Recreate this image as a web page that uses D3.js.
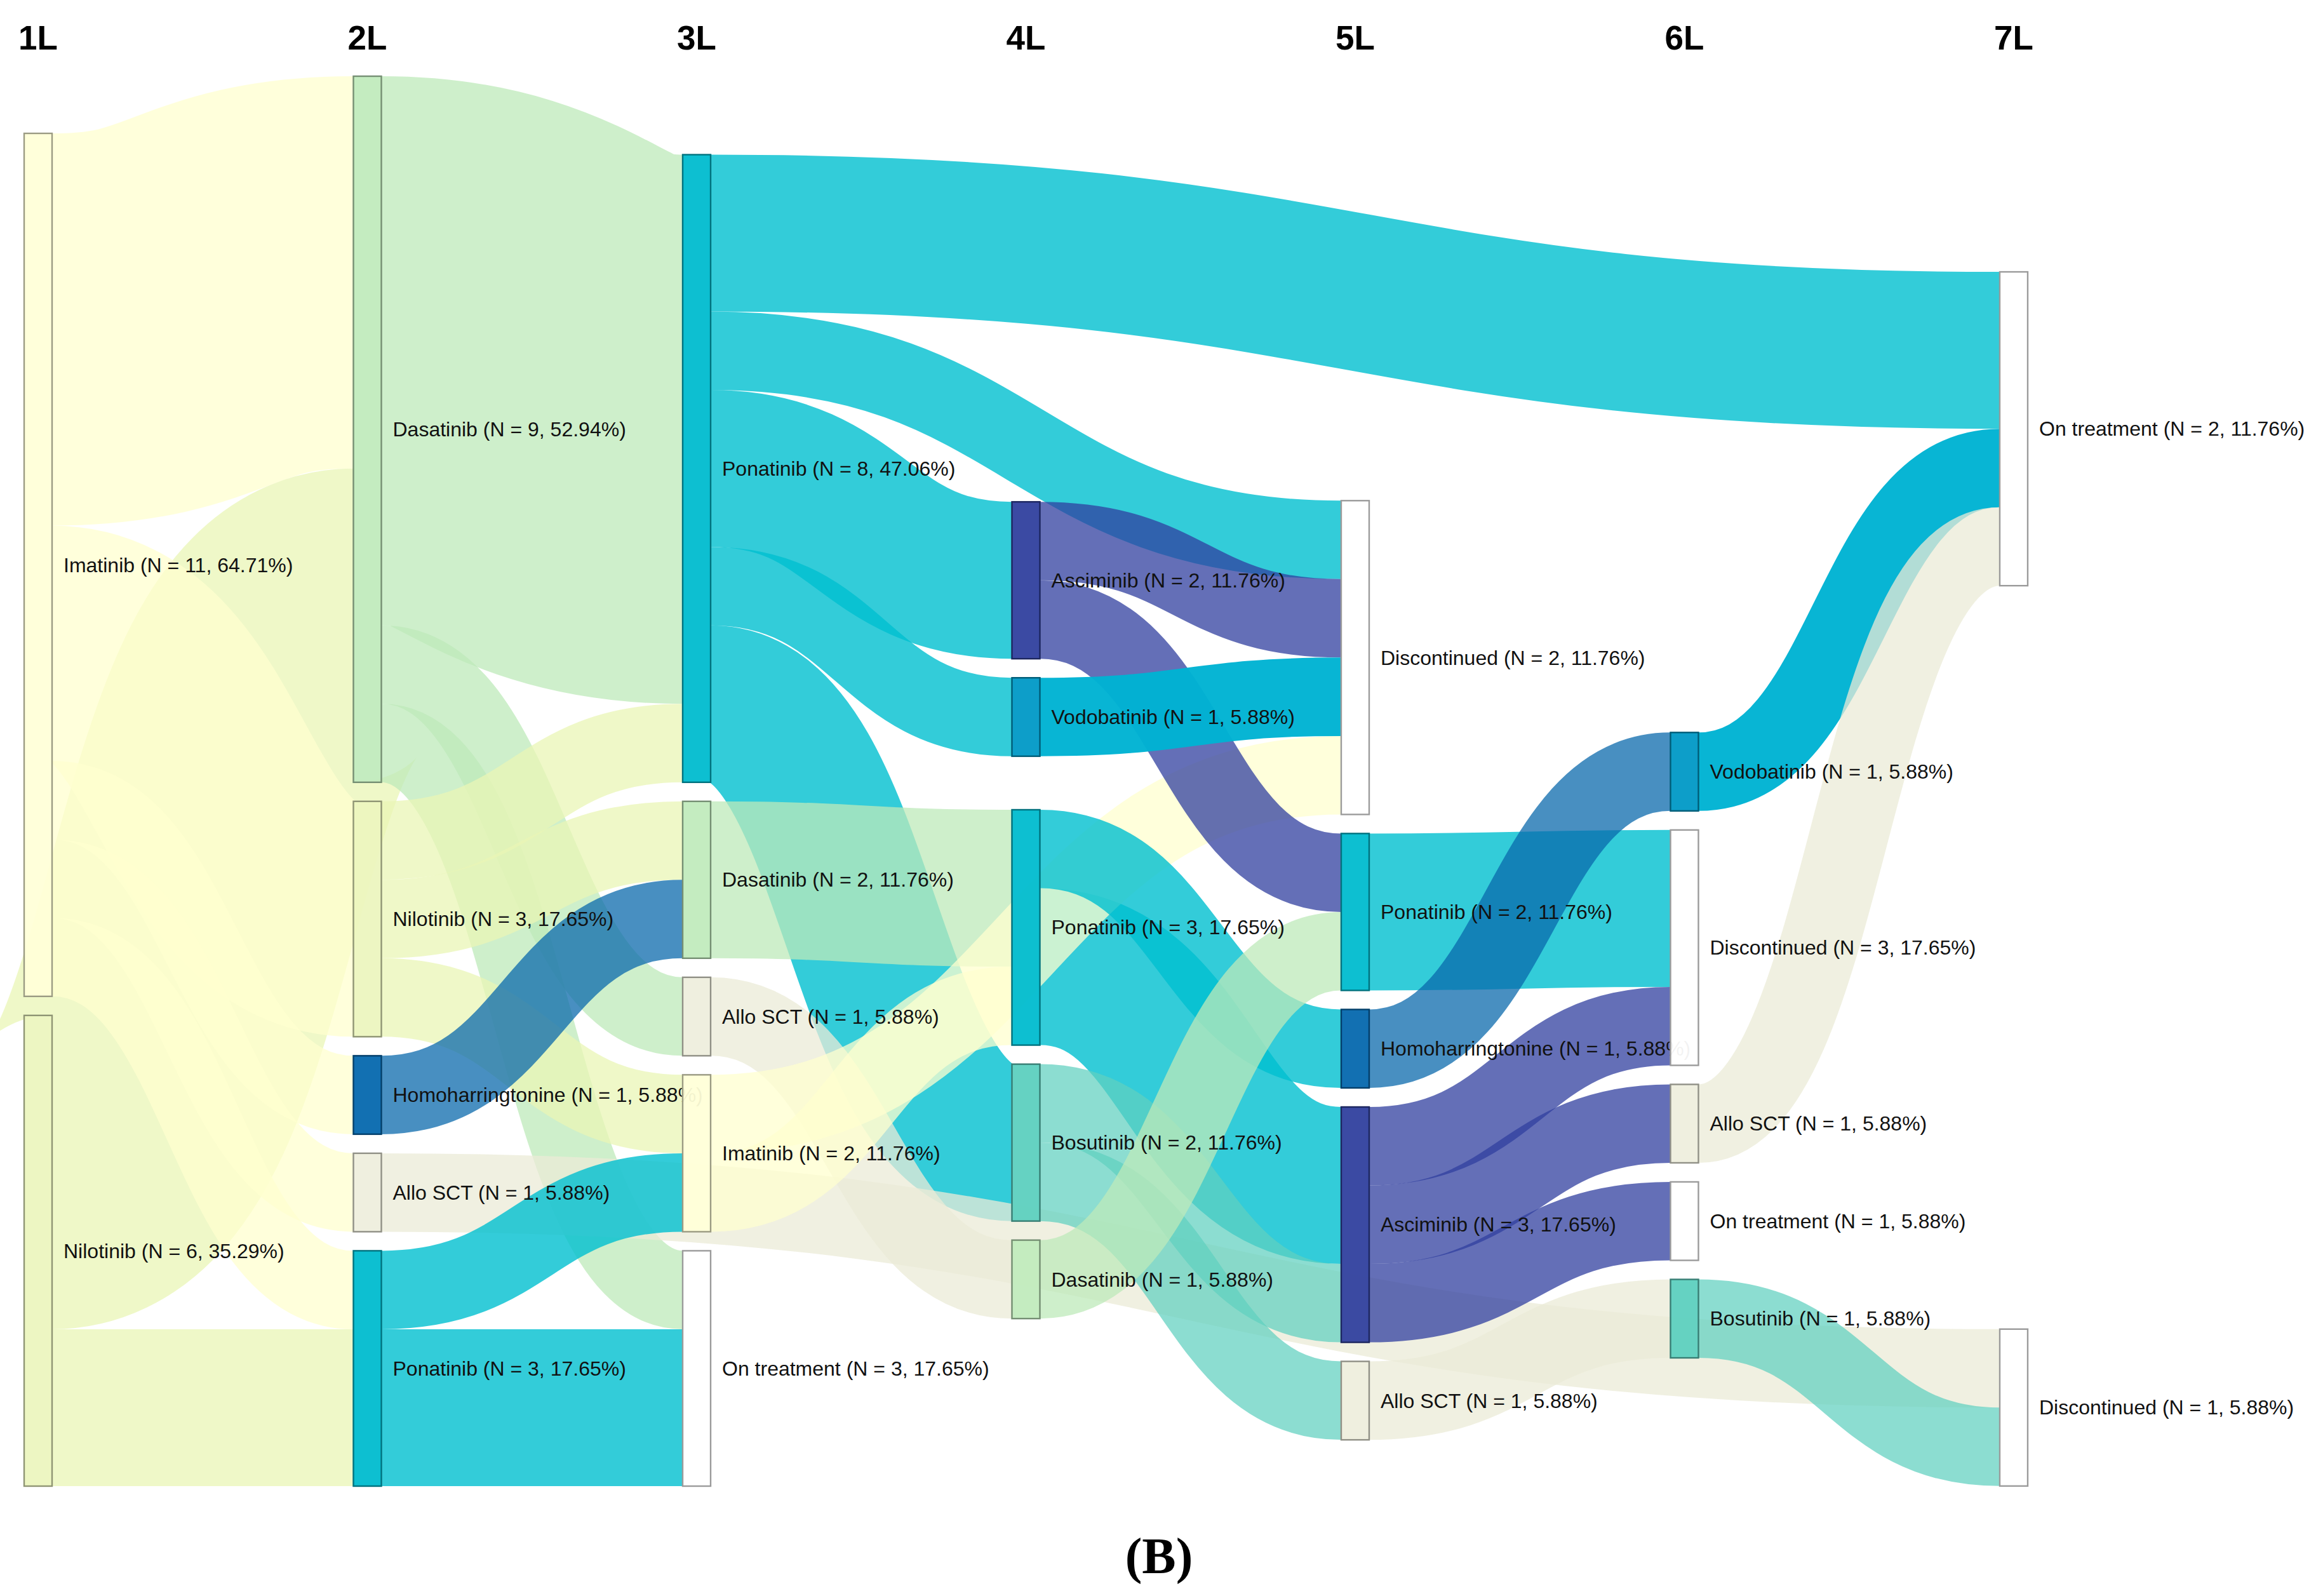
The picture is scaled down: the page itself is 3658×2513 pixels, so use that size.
<!DOCTYPE html>
<html>
<head>
<meta charset="utf-8">
<script src="https://cdn.jsdelivr.net/npm/d3@7"></script>
<style>
  body { margin: 0; background: #ffffff; }
  svg { display: block; }
  .lbl { font-family: "Liberation Sans", Arial, sans-serif; font-size: 32px; fill: #111; }
  .stage { font-family: "Liberation Sans", Arial, sans-serif; font-size: 53px; font-weight: bold; fill: #000; }
  .panel { font-family: "Liberation Serif", "Times New Roman", serif; font-size: 80px; font-weight: bold; fill: #000; }
</style>
</head>
<body>
<svg id="chart" width="3658" height="2513"></svg>
<script>
// ---------------- DATA ----------------
const stageLabels = ["1L", "2L", "3L", "4L", "5L", "6L", "7L"];

const nodeNames = [
  "Imatinib 1L", "Nilotinib 1L",
  "Dasatinib 2L", "Nilotinib 2L", "Homoharringtonine 2L", "Allo SCT 2L", "Ponatinib 2L",
  "Ponatinib 3L", "Dasatinib 3L", "Allo SCT 3L", "Imatinib 3L", "On treatment 3L",
  "Asciminib 4L", "Vodobatinib 4L", "Ponatinib 4L", "Bosutinib 4L", "Dasatinib 4L",
  "Discontinued 5L", "Ponatinib 5L", "Homoharringtonine 5L", "Asciminib 5L", "Allo SCT 5L",
  "Vodobatinib 6L", "Discontinued 6L", "Allo SCT 6L", "On treatment 6L", "Bosutinib 6L",
  "On treatment 7L", "Discontinued 7L"
];

const nodeLabels = [
  "Imatinib (N = 11, 64.71%)", "Nilotinib (N = 6, 35.29%)",
  "Dasatinib (N = 9, 52.94%)", "Nilotinib (N = 3, 17.65%)", "Homoharringtonine (N = 1, 5.88%)", "Allo SCT (N = 1, 5.88%)", "Ponatinib (N = 3, 17.65%)",
  "Ponatinib (N = 8, 47.06%)", "Dasatinib (N = 2, 11.76%)", "Allo SCT (N = 1, 5.88%)", "Imatinib (N = 2, 11.76%)", "On treatment (N = 3, 17.65%)",
  "Asciminib (N = 2, 11.76%)", "Vodobatinib (N = 1, 5.88%)", "Ponatinib (N = 3, 17.65%)", "Bosutinib (N = 2, 11.76%)", "Dasatinib (N = 1, 5.88%)",
  "Discontinued (N = 2, 11.76%)", "Ponatinib (N = 2, 11.76%)", "Homoharringtonine (N = 1, 5.88%)", "Asciminib (N = 3, 17.65%)", "Allo SCT (N = 1, 5.88%)",
  "Vodobatinib (N = 1, 5.88%)", "Discontinued (N = 3, 17.65%)", "Allo SCT (N = 1, 5.88%)", "On treatment (N = 1, 5.88%)", "Bosutinib (N = 1, 5.88%)",
  "On treatment (N = 2, 11.76%)", "Discontinued (N = 1, 5.88%)"
];

const nodeGroups = [
  "Imatinib", "Nilotinib",
  "Dasatinib", "Nilotinib", "Homoharringtonine", "Allo SCT", "Ponatinib",
  "Ponatinib", "Dasatinib", "Allo SCT", "Imatinib", "On treatment",
  "Asciminib", "Vodobatinib", "Ponatinib", "Bosutinib", "Dasatinib",
  "Discontinued", "Ponatinib", "Homoharringtonine", "Asciminib", "Allo SCT",
  "Vodobatinib", "Discontinued", "Allo SCT", "On treatment", "Bosutinib",
  "On treatment", "Discontinued"
];

const linkSources = [
  "Imatinib 1L", "Imatinib 1L", "Imatinib 1L", "Imatinib 1L", "Imatinib 1L",
  "Nilotinib 1L", "Nilotinib 1L",
  "Dasatinib 2L", "Dasatinib 2L", "Dasatinib 2L",
  "Nilotinib 2L", "Nilotinib 2L", "Nilotinib 2L",
  "Homoharringtonine 2L", "Allo SCT 2L",
  "Ponatinib 2L", "Ponatinib 2L",
  "Ponatinib 3L", "Ponatinib 3L", "Ponatinib 3L", "Ponatinib 3L", "Ponatinib 3L",
  "Dasatinib 3L", "Allo SCT 3L", "Imatinib 3L", "Imatinib 3L",
  "Asciminib 4L", "Asciminib 4L", "Vodobatinib 4L",
  "Ponatinib 4L", "Ponatinib 4L", "Bosutinib 4L", "Bosutinib 4L", "Dasatinib 4L",
  "Ponatinib 5L", "Homoharringtonine 5L", "Asciminib 5L", "Asciminib 5L", "Asciminib 5L", "Allo SCT 5L",
  "Vodobatinib 6L", "Allo SCT 6L", "Bosutinib 6L"
];
const linkTargets = [
  "Dasatinib 2L", "Nilotinib 2L", "Homoharringtonine 2L", "Allo SCT 2L", "Ponatinib 2L",
  "Dasatinib 2L", "Ponatinib 2L",
  "Ponatinib 3L", "Allo SCT 3L", "On treatment 3L",
  "Ponatinib 3L", "Dasatinib 3L", "Imatinib 3L",
  "Dasatinib 3L", "Discontinued 7L",
  "Imatinib 3L", "On treatment 3L",
  "On treatment 7L", "Discontinued 5L", "Asciminib 4L", "Vodobatinib 4L", "Bosutinib 4L",
  "Ponatinib 4L", "Dasatinib 4L", "Discontinued 5L", "Ponatinib 4L",
  "Discontinued 5L", "Ponatinib 5L", "Discontinued 5L",
  "Homoharringtonine 5L", "Asciminib 5L", "Asciminib 5L", "Allo SCT 5L", "Ponatinib 5L",
  "Discontinued 6L", "Vodobatinib 6L", "Discontinued 6L", "Allo SCT 6L", "On treatment 6L", "Bosutinib 6L",
  "On treatment 7L", "On treatment 7L", "Discontinued 7L"
];
const linkValues = [
  5, 3, 1, 1, 1,
  4, 2,
  7, 1, 1,
  1, 1, 1,
  1, 1,
  1, 2,
  2, 1, 2, 1, 2,
  2, 1, 1, 1,
  1, 1, 1,
  1, 2, 1, 1, 1,
  2, 1, 1, 1, 1, 1,
  1, 1, 1
];

const groupNames       = ["Imatinib", "Nilotinib", "Dasatinib", "Homoharringtonine", "Allo SCT", "Ponatinib", "On treatment", "Asciminib", "Vodobatinib", "Bosutinib", "Discontinued"];
const groupNodeColors  = ["#ffffd8", "#ecf6bf", "#c1ebbd", "#0568ae", "#eeeedd", "#00bccf", "#ffffff", "#30409e", "#0099c6", "#5dd0bf", "#ffffff"];
const groupLinkColors  = ["#ffffcf", "#e9f5b5", "#bde9b9", "#0868ac", "#ebebd7", "#00bfcf", "#ffffff", "#303f9f", "#00b3d3", "#5fd0bf", "#ffffff"];
const groupLinkOpacity = [0.75, 0.75, 0.75, 0.74, 0.75, 0.8, 0.75, 0.75, 0.97, 0.72, 0.75];

(function () {
// ---------------- LAYOUT ----------------
// Classic d3-sankey relaxation (as in networkD3), followed by the manual node
// dragging seen in the original figure for the later lines (tops in patient units).
const W = 3658, H = 2513;
const nodeWidth = 44, nodePadding = 30;
const topY = 120, plotH = 2220;
const iterations = 32;
const manualNodeTops = new Map([
  ["Asciminib 4L", 5.425], ["Ponatinib 4L", 9.35],
  ["Discontinued 5L", 5.41],
  ["Vodobatinib 6L", 8.365],
  ["On treatment 7L", 2.494], ["Discontinued 7L", 15.97]
]);
const manualLayers = [3, 4, 5, 6];

const nodes = nodeNames.map((name, i) => ({
  index: i, name, label: nodeLabels[i], group: nodeGroups[i], sourceLinks: [], targetLinks: []
}));
const byName = new Map(nodes.map(n => [n.name, n]));
const links = linkValues.map((v, i) => ({
  source: byName.get(linkSources[i]), target: byName.get(linkTargets[i]), value: v
}));
links.forEach(l => { l.source.sourceLinks.push(l); l.target.targetLinks.push(l); });
nodes.forEach(n => {
  n.value = Math.max(d3.sum(n.sourceLinks, d => d.value), d3.sum(n.targetLinks, d => d.value));
});

let remaining = nodes, colIdx = 0;
while (remaining.length) {
  const next = [];
  remaining.forEach(n => {
    n.col = colIdx;
    n.sourceLinks.forEach(l => { if (next.indexOf(l.target) < 0) next.push(l.target); });
  });
  remaining = next;
  ++colIdx;
}
const maxCol = colIdx - 1;

const xScale = d3.scaleLinear().domain([0, maxCol]).range([38, 3149]);

const nodesByBreadth = d3.groups(nodes, d => d.col).sort((a, b) => a[0] - b[0]).map(d => d[1]);

const ky = d3.min(nodesByBreadth, ns => (plotH - (ns.length - 1) * nodePadding) / d3.sum(ns, d => d.value));
const hScale = d3.scaleLinear().domain([0, 1]).range([0, ky]);

nodesByBreadth.forEach(ns => ns.forEach((n, i) => { n.y = i; n.dy = hScale(n.value); }));
links.forEach(l => { l.dy = hScale(l.value); });

const center = n => n.y + n.dy / 2;

function resolveCollisions() {
  nodesByBreadth.forEach(ns => {
    let node, dy, y0 = 0, i;
    const n = ns.length;
    ns.sort((a, b) => a.y - b.y);
    for (i = 0; i < n; ++i) {
      node = ns[i];
      dy = y0 - node.y;
      if (dy > 0) node.y += dy;
      y0 = node.y + node.dy + nodePadding;
    }
    dy = y0 - nodePadding - plotH;
    if (dy > 0) {
      y0 = node.y -= dy;
      for (i = n - 2; i >= 0; --i) {
        node = ns[i];
        dy = node.y + node.dy + nodePadding - y0;
        if (dy > 0) node.y -= dy;
        y0 = node.y;
      }
    }
  });
}
function relaxLeftToRight(alpha) {
  nodesByBreadth.forEach(ns => ns.forEach(n => {
    if (n.targetLinks.length) {
      const y = d3.sum(n.targetLinks, l => center(l.source) * l.value) / d3.sum(n.targetLinks, l => l.value);
      n.y += (y - center(n)) * alpha;
    }
  }));
}
function relaxRightToLeft(alpha) {
  nodesByBreadth.slice().reverse().forEach(ns => ns.forEach(n => {
    if (n.sourceLinks.length) {
      const y = d3.sum(n.sourceLinks, l => center(l.target) * l.value) / d3.sum(n.sourceLinks, l => l.value);
      n.y += (y - center(n)) * alpha;
    }
  }));
}

resolveCollisions();
for (let alpha = 1, it = iterations; it > 0; --it) {
  relaxRightToLeft(alpha *= 0.99);
  resolveCollisions();
  relaxLeftToRight(alpha);
  resolveCollisions();
}

// manual arrangement of later lines (node order = input order)
manualLayers.forEach(c => {
  const ns = nodes.filter(n => n.col === c);
  let cursor = 0;
  ns.forEach(n => {
    n.y = manualNodeTops.has(n.name) ? Math.max(cursor, hScale(manualNodeTops.get(n.name))) : cursor;
    cursor = n.y + n.dy + nodePadding;
  });
});

nodes.forEach(n => {
  n.sourceLinks.sort((a, b) => a.target.y - b.target.y);
  n.targetLinks.sort((a, b) => a.source.y - b.source.y);
});
nodes.forEach(n => {
  let sy = 0, ty = 0;
  n.sourceLinks.forEach(l => { l.sy = sy; sy += l.dy; });
  n.targetLinks.forEach(l => { l.ty = ty; ty += l.dy; });
});

// ---------------- DRAW ----------------
const nodeColor = d3.scaleOrdinal().domain(groupNames).range(groupNodeColors);
const linkColor = d3.scaleOrdinal().domain(groupNames).range(groupLinkColors);
const linkOpacity = d3.scaleOrdinal().domain(groupNames).range(groupLinkOpacity);

const svg = d3.select("#chart");
svg.append("rect").attr("width", W).attr("height", H).attr("fill", "#ffffff");
const g = svg.append("g").attr("transform", `translate(0,${topY})`);

const linkGen = d3.linkHorizontal()
  .source(d => [xScale(d.source.col) + nodeWidth, d.source.y + d.sy + d.dy / 2])
  .target(d => [xScale(d.target.col), d.target.y + d.ty + d.dy / 2]);

g.append("g").selectAll("path")
  .data(links.slice().sort((a, b) => b.dy - a.dy))
  .join("path")
  .attr("d", linkGen)
  .attr("fill", "none")
  .attr("stroke", d => linkColor(d.source.group))
  .attr("stroke-opacity", d => linkOpacity(d.source.group))
  .attr("stroke-width", d => Math.max(1, d.dy));

const nodeG = g.append("g").selectAll("g")
  .data(nodes)
  .join("g")
  .attr("transform", d => `translate(${xScale(d.col)},${d.y})`);

nodeG.append("rect")
  .attr("width", nodeWidth)
  .attr("height", d => d.dy)
  .attr("fill", d => nodeColor(d.group))
  .attr("fill-opacity", 0.95)
  .attr("stroke", d => d3.rgb(nodeColor(d.group)).darker(1.4))
  .attr("stroke-width", 2.4);

nodeG.append("text")
  .attr("class", "lbl")
  .attr("x", nodeWidth + 18)
  .attr("y", d => d.dy / 2)
  .attr("dy", "0.35em")
  .text(d => d.label);

svg.append("g").selectAll("text")
  .data(stageLabels)
  .join("text")
  .attr("class", "stage")
  .attr("x", (d, i) => xScale(i) + nodeWidth / 2)
  .attr("y", 78)
  .attr("text-anchor", "middle")
  .text(d => d);

svg.append("text")
  .attr("class", "panel")
  .attr("x", 1825)
  .attr("y", 2477)
  .attr("text-anchor", "middle")
  .text("(B)");
})();
</script>
</body>
</html>
